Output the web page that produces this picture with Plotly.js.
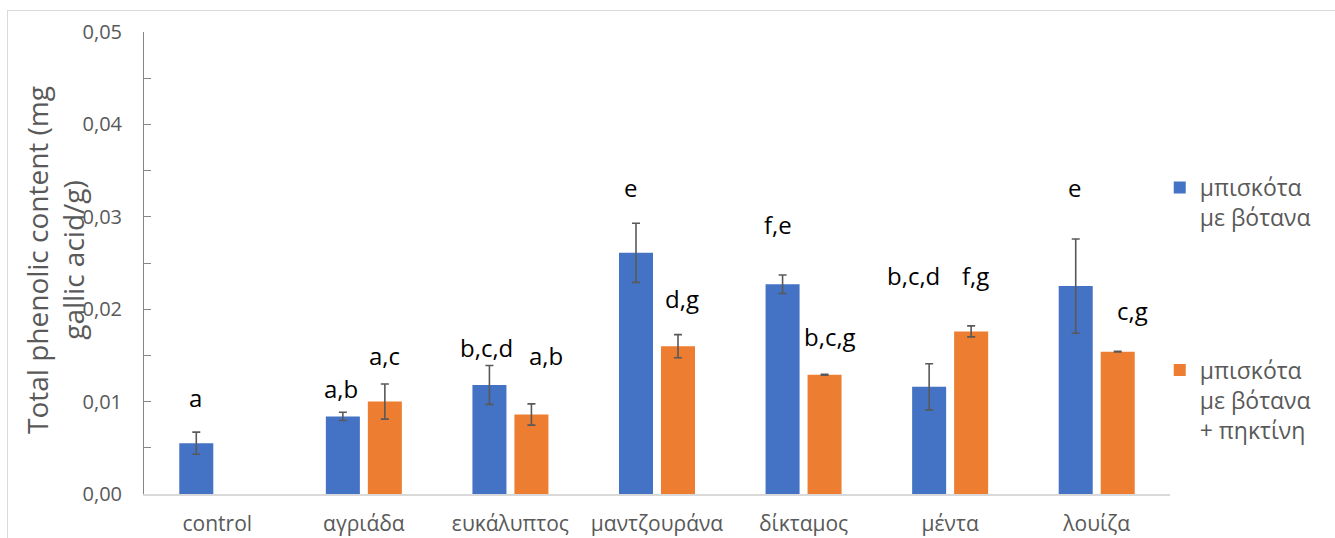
<!DOCTYPE html>
<html><head><meta charset="utf-8">
<script src="https://cdn.plot.ly/plotly-3.0.1.min.js"></script>
<style>
html,body{margin:0;padding:0;background:#fff;overflow:hidden}
#chart{width:1335px;height:538px}
#frame{position:absolute;left:7px;top:10px;width:1400px;height:600px;border:1px solid #d9d9d9;box-sizing:border-box;pointer-events:none}
</style></head>
<body>
<div id="chart"></div><div id="frame"></div>
<script>
// ---- data ----
const categories = ['control','αγριάδα','ευκάλυπτος','μαντζουράνα','δίκταμος','μέντα','λουίζα'];
const herbValues   = [0.0055, 0.0084, 0.0118, 0.0261, 0.0227, 0.0116, 0.0225];
const herbErrors   = [0.0012, 0.00045, 0.0021, 0.0032, 0.0010, 0.0025, 0.0051];
const pectinValues = [null, 0.0100, 0.0086, 0.0160, 0.0129, 0.0176, 0.0154];
const pectinErrors = [null, 0.0019, 0.00115, 0.00125, 0.00005, 0.0006, 0.00004];
const herbLetters   = ['a','a,b','b,c,d','e','f,e','b,c,d','e'];
const pectinLetters = [null,'a,c','a,b','d,g','b,c,g','f,g','c,g'];
const seriesNames = ['μπισκότα<br>με βότανα','μπισκότα<br>με βότανα<br>+ πηκτίνη'];
const yTickVals = [0, 0.01, 0.02, 0.03, 0.04, 0.05];
const yTitle = 'Total phenolic content (mg<br>gallic acid/g)';

// ---- label placement (manual, as in the original) ----
const herbLabelY   = [0.0104,0.0114,0.0159,0.0332,0.0292,0.0236,0.0332];
const pectinLabelY = [null,0.0150,0.0150,0.0212,0.0170,0.0236,0.0199];
const herbLabelDx   = [-22,-23,-24,-27,-26,-37,-22];
const pectinLabelDx = [0,21,36,25,26,25,36];

const blue = '#4472C4', orange = '#ED7D31', grey = '#595959';
const F = 'Open Sans, Liberation Sans, sans-serif';

const traces = [
  {type:'bar', name:seriesNames[0], x:categories, y:herbValues, marker:{color:blue},
   error_y:{type:'data', array:herbErrors, visible:true, color:grey, thickness:1.6, width:4},
   legend:'legend', hoverinfo:'skip'},
  {type:'bar', name:seriesNames[1], x:categories, y:pectinValues, marker:{color:orange},
   error_y:{type:'data', array:pectinErrors, visible:true, color:grey, thickness:1.6, width:4},
   legend:'legend2', hoverinfo:'skip'}
];

const annotations = [];
categories.forEach((c,i)=>{
  if (herbLetters[i]) annotations.push({x:c, y:herbLabelY[i], xref:'x', yref:'y', text:herbLetters[i],
    showarrow:false, xshift:herbLabelDx[i], font:{family:F, size:24, color:'#000'}});
  if (pectinLetters[i]) annotations.push({x:c, y:pectinLabelY[i], xref:'x', yref:'y', text:pectinLetters[i],
    showarrow:false, xshift:pectinLabelDx[i], font:{family:F, size:24, color:'#000'}});
});
// y-axis title (placed like the original, overlapping the tick-label column)
annotations.push({xref:'paper', yref:'paper', x:-0.087, y:0.506, xanchor:'center', yanchor:'middle',
  textangle:-90, showarrow:false, text:yTitle, font:{family:F, size:28, color:grey}});

const layout = {
  width:1335, height:538,
  margin:{l:144, r:165, t:32, b:44},
  paper_bgcolor:'#fff', plot_bgcolor:'#fff',
  font:{family:F, color:grey},
  barmode:'group', bargap:0.427, bargroupgap:0.19,
  separators:',.',
  showlegend:true,
  xaxis:{type:'category', showgrid:false, zeroline:false, showline:true, linecolor:'#d9d9d9', linewidth:2,
    ticks:'', tickfont:{family:F, size:21, color:grey}, ticklabelstandoff:10, fixedrange:true},
  yaxis:{range:[0,0.05], tickvals:yTickVals, tickformat:'.2f', showgrid:false, zeroline:false,
    showline:true, linecolor:'#868686', linewidth:1, ticks:'inside', ticklen:7, tickcolor:'#868686',
    minor:{dtick:0.005, ticks:'inside', ticklen:7, tickcolor:'#868686'},
    tickfont:{family:F, size:20, color:grey}, ticklabelstandoff:17,
    fixedrange:true},
  legend:{x:0.99, xanchor:'left', y:0.71, yanchor:'top', valign:'top', font:{family:F, size:23, color:grey}, bgcolor:'rgba(0,0,0,0)'},
  legend2:{x:0.99, xanchor:'left', y:0.315, yanchor:'top', valign:'top', font:{family:F, size:23, color:grey}, bgcolor:'rgba(0,0,0,0)'},
  annotations:annotations
};

Plotly.newPlot('chart', traces, layout, {displayModeBar:false, staticPlot:true});
</script>
</body></html>
